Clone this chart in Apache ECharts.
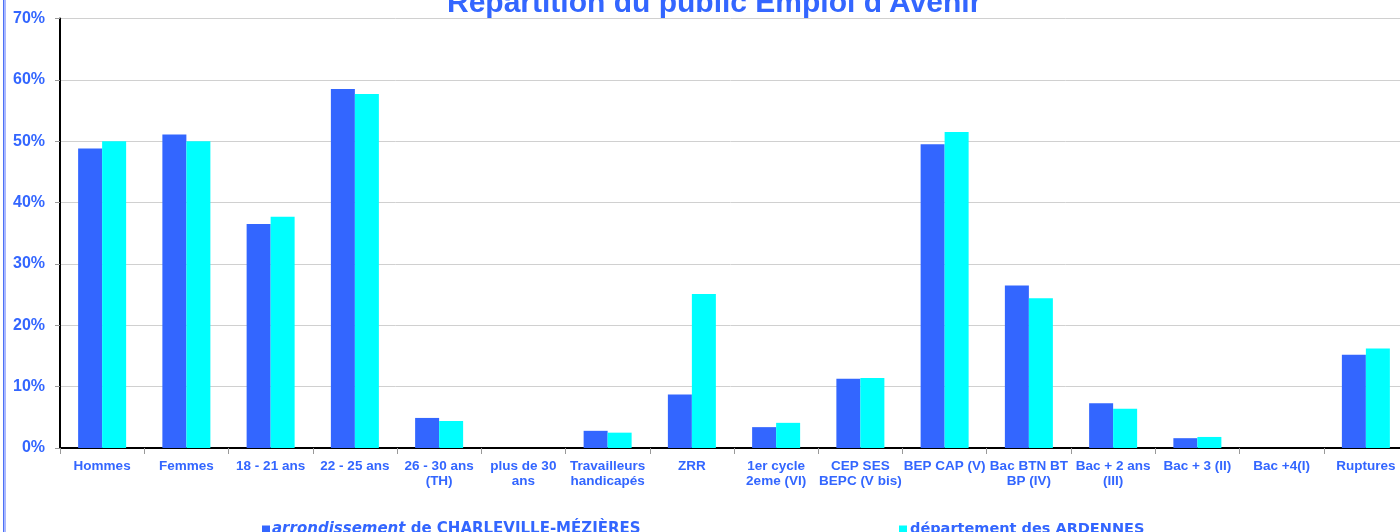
<!DOCTYPE html>
<html>
<head>
<meta charset="utf-8">
<script src="https://cdn.jsdelivr.net/npm/echarts@6/dist/echarts.min.js"></script>
<style>
  html, body { margin: 0; padding: 0; background: #fff; }
  #bar-charts { width: 1400px; height: 532px; }
</style>
</head>
<body>
<div id="bar-charts"></div>
<script>
var categories = ['Hommes', 'Femmes', '18 - 21 ans', '22 - 25 ans', '26 - 30 ans\n(TH)', 'plus de 30\nans',
  'Travailleurs\nhandicapés', 'ZRR', '1er cycle\n2eme (VI)', 'CEP SES\nBEPC (V bis)', 'BEP CAP (V)',
  'Bac BTN BT\nBP (IV)', 'Bac + 2 ans\n(III)', 'Bac + 3 (II)', 'Bac +4(I)', 'Ruptures'];
var arrondissement = [48.8, 51.1, 36.5, 58.5, 4.9, 0, 2.8, 8.7, 3.4, 11.3, 49.5, 26.5, 7.3, 1.6, 0, 15.2];
var departement = [50.0, 50.0, 37.7, 57.7, 4.4, 0, 2.5, 25.1, 4.1, 11.4, 51.5, 24.4, 6.4, 1.8, 0, 16.2];
var yTicks = { min: 0, max: 70, interval: 10 };

barCharts();

function barCharts() {
  var myBar = echarts.init(document.getElementById('bar-charts'));
  var blue = '#3366FF';
  var option = {
    animation: false,
    title: {
      text: "Répartition du public Emploi d'Avenir",
      left: 442,
      top: -16,
      textStyle: {
        color: blue,
        fontSize: 30,
        fontWeight: 'bold',
        fontFamily: 'Liberation Sans'
      }
    },
    graphic: [
      { type: 'rect', shape: { x: 3, y: 0, width: 1, height: 532 }, style: { fill: '#4d70f5' } },
      { type: 'rect', shape: { x: 4, y: 0, width: 2, height: 532 }, style: { fill: '#a9b9ff' } }
    ],
    legend: [
      {
        data: ['arrondissement'],
        left: 257,
        top: 517,
        itemWidth: 8,
        itemHeight: 8,
        icon: 'rect',
        formatter: function () { return '{i|arrondissement} de CHARLEVILLE-MÉZIÈRES'; },
        textStyle: {
          color: blue,
          fontSize: 15,
          fontWeight: 'bold',
          fontFamily: 'DejaVu Sans',
          padding: [0, 0, 0, -3],
          rich: {
            i: { color: blue, fontSize: 15, fontWeight: 'bold', fontStyle: 'italic', fontFamily: 'DejaVu Sans' }
          }
        }
      },
      {
        data: ['departement'],
        left: 894,
        top: 517,
        itemWidth: 8,
        itemHeight: 8,
        icon: 'rect',
        formatter: function () { return 'département des ARDENNES'; },
        textStyle: {
          color: blue,
          fontSize: 14.5,
          fontWeight: 'bold',
          fontFamily: 'DejaVu Sans',
          padding: [0, 0, 0, -2]
        }
      }
    ],
    grid: {
      left: 60,
      width: 1348,
      top: 18.5,
      bottom: 84,
      containLabel: false,
      outerBoundsMode: 'none'
    },
    xAxis: [
      {
        type: 'category',
        data: categories,
        axisLine: { lineStyle: { color: '#000', width: 2 } },
        axisTick: { show: true, length: 6, lineStyle: { color: '#999' } },
        axisLabel: {
          interval: 0,
          margin: 11,
          color: blue,
          fontSize: 13.5,
          fontWeight: 'bold',
          lineHeight: 15,
          fontFamily: 'Liberation Sans'
        }
      }
    ],
    yAxis: [
      {
        type: 'value',
        min: yTicks.min,
        max: yTicks.max,
        interval: yTicks.interval,
        axisLine: { show: true, lineStyle: { color: '#000', width: 2 } },
        axisTick: { show: true, length: 5, lineStyle: { color: '#999' } },
        splitLine: { lineStyle: { color: '#d0d0d0', width: 1 } },
        axisLabel: {
          formatter: '{value}%',
          margin: 15,
          color: blue,
          fontSize: 16,
          fontWeight: 'bold',
          fontFamily: 'Liberation Sans'
        }
      }
    ],
    series: [
      {
        name: 'arrondissement',
        type: 'bar',
        barWidth: 24,
        barGap: '0%',
        itemStyle: { color: blue },
        data: arrondissement
      },
      {
        name: 'departement',
        type: 'bar',
        barWidth: 24,
        barGap: '0%',
        itemStyle: { color: '#00FFFF' },
        data: departement
      }
    ]
  };
  myBar.setOption(option);
}
</script>
</body>
</html>
